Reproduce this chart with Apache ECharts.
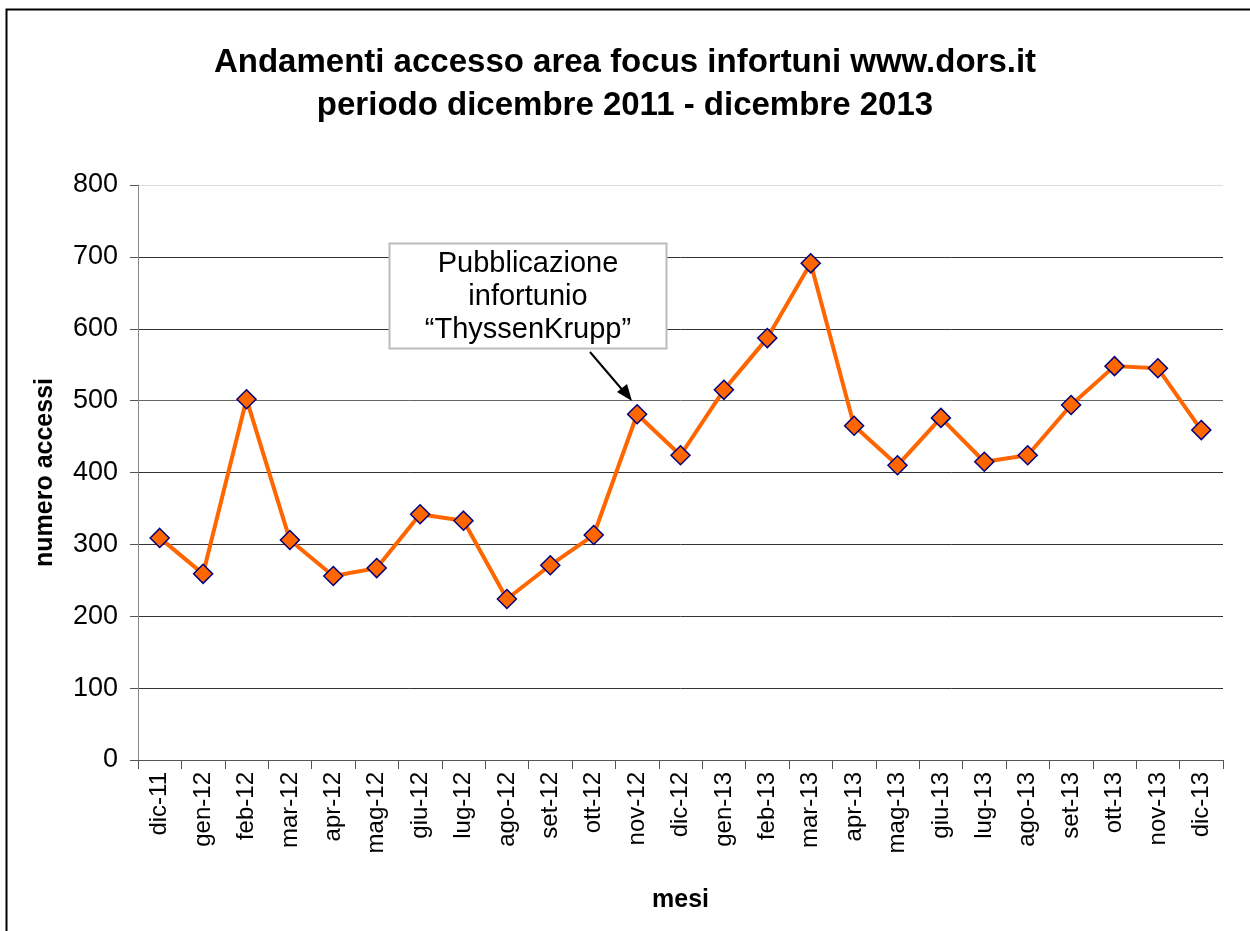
<!DOCTYPE html>
<html>
<head>
<meta charset="utf-8">
<script src="https://cdn.jsdelivr.net/npm/echarts@6/dist/echarts.min.js"></script>
<style>
html,body{margin:0;padding:0;background:#fff;}
#chart{width:1250px;height:931px;}
</style>
</head>
<body>
<div id="chart"></div>
<script>
const titleLines = ['Andamenti accesso area focus infortuni www.dors.it', 'periodo dicembre 2011 - dicembre 2013'];
const categories = ['dic-11','gen-12','feb-12','mar-12','apr-12','mag-12','giu-12','lug-12','ago-12','set-12','ott-12','nov-12','dic-12','gen-13','feb-13','mar-13','apr-13','mag-13','giu-13','lug-13','ago-13','set-13','ott-13','nov-13','dic-13'];
const accessi = [309,259,502,306,256,267,342,333,224,271,313,481,424,515,587,691,465,410,476,415,424,494,548,545,459];
const yAxisName = 'numero accessi';
const xAxisName = 'mesi';
const annotationText = 'Pubblicazione\ninfortunio\n\u201cThyssenKrupp\u201d';

const chart = echarts.init(document.getElementById('chart'));
const FONT = 'Liberation Sans, Arial, Helvetica, sans-serif';
chart.setOption({
  backgroundColor: '#fff',
  animation: false,
  title: {
    text: titleLines.join('\n'),
    left: 'center',
    top: 36,
    textStyle: {fontFamily: FONT, fontSize: 33, fontWeight: 'bold', color: '#000', lineHeight: 43}
  },
  grid: {left: 138, right: 27, top: 185, bottom: 171},
  xAxis: {
    type: 'category',
    data: categories,
    boundaryGap: true,
    name: xAxisName,
    nameLocation: 'middle',
    nameGap: 128,
    nameTextStyle: {fontFamily: FONT, fontSize: 25, fontWeight: 'bold', color: '#000'},
    axisLine: {lineStyle: {color: '#555', width: 1}},
    axisTick: {show: true, length: 9, lineStyle: {color: '#555'}},
    axisLabel: {rotate: 90, fontFamily: FONT, fontSize: 24, color: '#000', margin: 12, interval: 0}
  },
  yAxis: {
    type: 'value',
    min: 0, max: 800, interval: 100,
    name: yAxisName,
    nameLocation: 'middle',
    nameGap: 80,
    nameTextStyle: {fontFamily: FONT, fontSize: 25, fontWeight: 'bold', color: '#000'},
    axisLine: {show: true, lineStyle: {color: '#888', width: 1}},
    axisTick: {show: true, length: 8, lineStyle: {color: '#555'}},
    axisLabel: {fontFamily: FONT, fontSize: 27, color: '#000', margin: 20},
    splitLine: {show: true, lineStyle: {color: ['#555','#333','#333','#333','#333','#666','#333','#333','#ddd'], width: 1}}
  },
  series: [{
    type: 'line',
    data: accessi,
    symbol: 'diamond',
    symbolSize: 19,
    lineStyle: {color: '#FF6600', width: 4},
    itemStyle: {color: '#FF6600', borderColor: '#000080', borderWidth: 1.5},
    z: 3
  }],
  graphic: [
    {type: 'rect', shape: {x: 6.5, y: 9.5, width: 1400, height: 1100}, style: {fill: null, stroke: '#000', lineWidth: 2}, z: 0, silent: true},
    {type: 'rect', shape: {x: 389.5, y: 243.5, width: 277, height: 105}, style: {fill: '#fff', stroke: '#bbb', lineWidth: 2}, z: 10},
    {type: 'text', z: 11, style: {text: annotationText, x: 528, y: 247, textAlign: 'center', fontFamily: FONT, fontSize: 29, lineHeight: 33, fill: '#000'}},
    {type: 'line', shape: {x1: 590, y1: 352, x2: 625, y2: 393}, style: {stroke: '#000', lineWidth: 2}, z: 10},
    {type: 'polygon', shape: {points: [[632, 401], [617, 392], [627, 384]]}, style: {fill: '#000'}, z: 10}
  ]
});
</script>
</body>
</html>
